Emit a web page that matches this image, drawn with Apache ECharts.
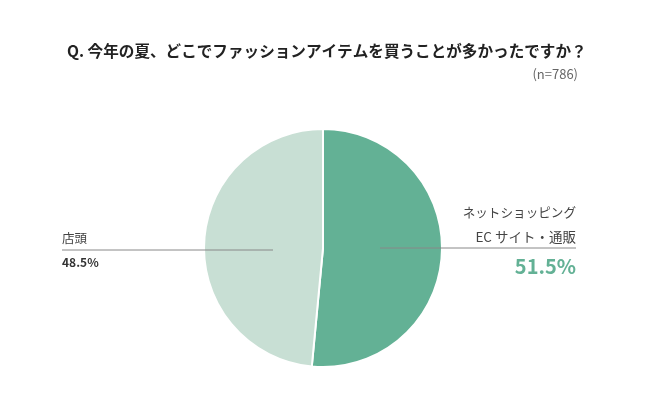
<!DOCTYPE html>
<html><head><meta charset="utf-8">
<script src="https://cdn.jsdelivr.net/npm/echarts@6/dist/echarts.min.js"></script>
<style>html,body{margin:0;padding:0;background:#fff}#c{width:650px;height:418px}</style>
</head><body><div id="c"></div>
<script>
const titleText = 'Q. 今年の夏、どこでファッションアイテムを買うことが多かったですか？';
const sampleText = '(n=786)';
const categories = ['ネットショッピング\nEC サイト・通販', '店頭'];
const values = [51.5, 48.5];
const colors = ['#63b195', '#c8dfd4'];

const chart = echarts.init(document.getElementById('c'));
const font = '"Noto Sans CJK JP", "Noto Sans", sans-serif';
const catLines0 = categories[0].split('\n');
chart.setOption({
  backgroundColor: '#fff',
  animation: false,
  title: [{
    text: titleText, left: 62, top: 38,
    textStyle: {fontSize: 15.6, fontWeight: 'bold', color: '#222', fontFamily: font}
  }, {
    text: sampleText, right: 67, top: 63,
    textStyle: {fontSize: 13, fontWeight: 'normal', color: '#666', fontFamily: font}
  }],
  series: [{
    type: 'pie',
    center: [323, 248],
    radius: [0, 119],
    startAngle: 90,
    clockwise: true,
    label: {show: false},
    labelLine: {show: false},
    itemStyle: {borderColor: '#fff', borderWidth: 2},
    emphasis: {disabled: true},
    data: categories.map((c, i) => ({name: c, value: values[i], itemStyle: {color: colors[i]}}))
  }],
  graphic: [
    {type: 'line', z: 100, shape: {x1: 62, y1: 250, x2: 273, y2: 250}, style: {stroke: '#888', lineWidth: 1}},
    {type: 'text', z: 100, left: 62, top: 232, style: {text: categories[1], font: '12.5px ' + font, fill: '#444'}},
    {type: 'text', z: 100, left: 62, top: 256, style: {text: values[1].toFixed(1) + '%', font: 'bold 12px ' + font, fill: '#333'}},
    {type: 'line', z: 100, shape: {x1: 380, y1: 248, x2: 576, y2: 248}, style: {stroke: '#888', lineWidth: 1}},
    {type: 'text', z: 100, right: 74, top: 206, style: {text: catLines0[0], font: '12.6px ' + font, fill: '#444', textAlign: 'right'}},
    {type: 'text', z: 100, right: 74, top: 230, style: {text: catLines0[1], font: '13.5px ' + font, fill: '#444', textAlign: 'right'}},
    {type: 'text', z: 100, right: 74, top: 256, style: {text: values[0].toFixed(1) + '%', font: 'bold 20px ' + font, fill: colors[0], textAlign: 'right'}}
  ]
});
</script></body></html>
